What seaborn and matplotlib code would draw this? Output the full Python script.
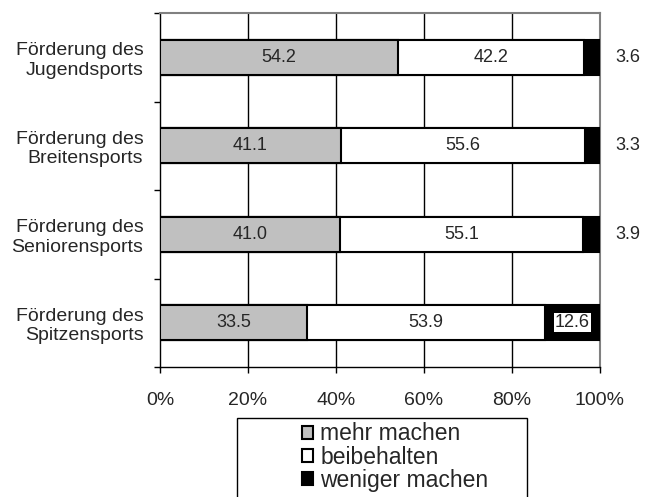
import pandas as pd
import seaborn as sns
import matplotlib.pyplot as plt
from matplotlib.patches import Patch, Rectangle

# Data
categories = ['Förderung des\nJugendsports', 'Förderung des\nBreitensports',
              'Förderung des\nSeniorensports', 'Förderung des\nSpitzensports']
mehr = [54.2, 41.1, 41.0, 33.5]
beibehalten = [42.2, 55.6, 55.1, 53.9]
weniger = [3.6, 3.3, 3.9, 12.6]
series_names = ['mehr machen', 'beibehalten', 'weniger machen']
x_ticks = [0, 20, 40, 60, 80, 100]
x_labels = ['0%', '20%', '40%', '60%', '80%', '100%']

df = pd.DataFrame({'cat': categories, 'mehr': mehr, 'beibehalten': beibehalten, 'weniger': weniger})
df['cum2'] = df['mehr'] + df['beibehalten']
df['total'] = df['cum2'] + df['weniger']

sns.set_style('white')
plt.rcParams['font.family'] = ['Liberation Sans', 'DejaVu Sans']

fig = plt.figure(figsize=(6.5, 4.97), dpi=100)
ax = fig.add_axes([160 / 650, 1 - 367 / 497, 440 / 650, 354 / 497])

colors = ['#c0c0c0', 'white', 'black']
# stacked bars: draw the cumulative totals back to front
for col, c in [('total', colors[2]), ('cum2', colors[1]), ('mehr', colors[0])]:
    sns.barplot(data=df, x=col, y='cat', orient='h', color=c, width=0.4,
                edgecolor='black', linewidth=1.5, saturation=1, ax=ax, zorder=3)

ax.set_xlim(0, 100)
ax.set_ylim(3.5, -0.5)
ax.set_xlabel('')
ax.set_ylabel('')

# gridlines
for g in x_ticks[1:-1]:
    ax.axvline(g, color='black', lw=1, zorder=1)

# spines
for s in ['top', 'right']:
    ax.spines[s].set_color('#808080')
    ax.spines[s].set_linewidth(1.5)
for s in ['left', 'bottom']:
    ax.spines[s].set_color('black')
    ax.spines[s].set_linewidth(1)

ax.set_xticks(x_ticks)
ax.set_xticklabels(x_labels, fontsize=14)
ax.tick_params(axis='x', direction='out', length=4, width=1, color='black', pad=14, bottom=True)
ax.set_yticks(range(len(categories)))
ax.set_yticklabels(categories, fontsize=14, ha='right')
ax.tick_params(axis='y', which='major', length=0, pad=12)
ax.set_yticks([-0.5, 0.5, 1.5, 2.5, 3.5], minor=True)
ax.tick_params(axis='y', which='minor', direction='out', length=4, width=1, color='black', left=True)

# value labels
fs = 13
for i in range(len(categories)):
    ax.text(mehr[i] / 2, i, f'{mehr[i]:.1f}', ha='center', va='center', fontsize=fs, zorder=5)
    ax.text(mehr[i] + beibehalten[i] / 2, i, f'{beibehalten[i]:.1f}', ha='center', va='center',
            fontsize=fs, zorder=5)
    if weniger[i] > 10:
        ax.text(df['cum2'][i] + weniger[i] / 2, i, f'{weniger[i]:.1f}', ha='center', va='center',
                fontsize=fs, zorder=5,
                bbox=dict(facecolor='white', edgecolor='none', pad=0.6))
    else:
        ax.text(106.4, i, f'{weniger[i]:.1f}', ha='center', va='center', fontsize=fs,
                clip_on=False)

# legend with box whose bottom runs off the figure
fig.patches.append(Rectangle((237 / 650, 0 - 0.05), 290 / 650, (79 / 497) + 0.05,
                             transform=fig.transFigure, facecolor='white',
                             edgecolor='black', lw=1))
handles = [Patch(facecolor=c, edgecolor='black', lw=1.5) for c in colors]
fig.legend(handles, series_names, loc='center', bbox_to_anchor=(395 / 650, 1 - 457 / 497),
           frameon=False, fontsize=16.5, handlelength=0.5, handleheight=0.5,
           handletextpad=0.3, labelspacing=0.0, borderpad=0)

fig.savefig('out.png', dpi=100)
